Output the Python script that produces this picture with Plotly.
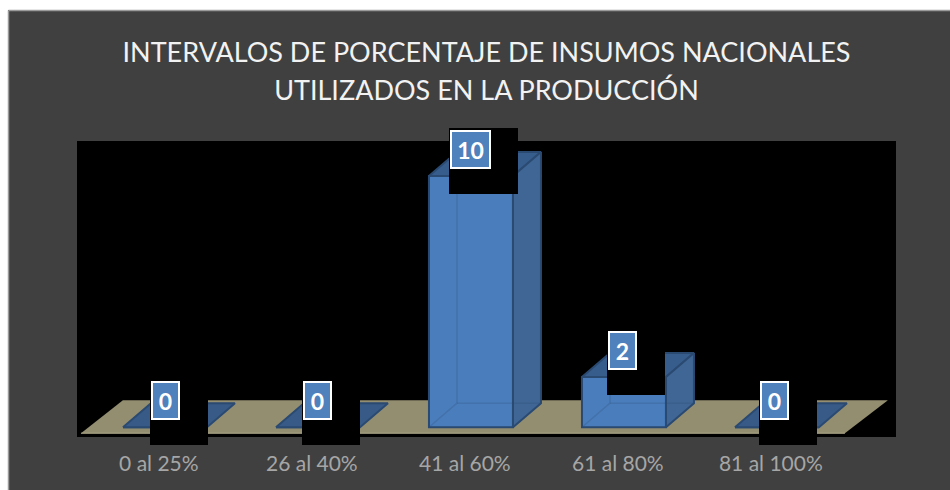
import plotly.graph_objects as go

categories = ["0 al 25%", "26 al 40%", "41 al 60%", "61 al 80%", "81 al 100%"]
values = [0, 0, 10, 2, 0]
title_lines = ["INTERVALOS DE PORCENTAJE DE INSUMOS NACIONALES", "UTILIZADOS EN LA PRODUCCIÓN"]

# Styling / geometry (pixel sizes and the pseudo-3D depth of the bars)
W, H = 950, 490
L, R, T, B = 77, 54, 141, 53
BAR_W = 0.549
DX, DY = 0.183, 0.956
FRONT, SIDE, TOP, FLAT, EDGE = "#4A7DBB", "#3F6695", "#375D8C", "#375A86", "#2B4A72"
LABEL_SHIFT = [-15, -16, -22, -17, -18]
idx = list(range(len(categories)))

fig = go.Figure()

fig.add_bar(x=idx, y=values, width=BAR_W, marker=dict(color=FRONT, line=dict(color=EDGE, width=2)),
            hoverinfo="skip", showlegend=False)


def poly(xs, ys, fill, line=EDGE, width=2):
    fig.add_scatter(x=xs, y=ys, mode="lines", fill="toself", fillcolor=fill,
                    line=dict(color=line, width=width), hoverinfo="skip", showlegend=False)


for i, v in zip(idx, values):
    a, b = i - BAR_W / 2, i + BAR_W / 2
    if v == 0:
        poly([a, b, b + DX, a + DX, a], [0, 0, DY, DY, 0], FLAT)
        continue
    poly([a + DX, b + DX, b, a, a + DX], [v + DY, v + DY, v, v, v + DY], TOP)
    poly([b, b + DX, b + DX, b, b], [0, DY, v + DY, v, 0], SIDE)
    # faint hidden edges seen through the translucent front
    fig.add_scatter(x=[a, a + DX, a + DX, None, a + DX, b + DX], y=[0, DY, v + DY, None, DY, DY],
                    mode="lines", line=dict(color="rgba(43,74,114,0.22)", width=1.5),
                    hoverinfo="skip", showlegend=False)

annotations = []
for i, v, s in zip(idx, values, LABEL_SHIFT):
    wide = len(str(v)) > 1
    annotations.append(dict(x=i, y=v, xref="x", yref="y", text=" ", showarrow=False,
                            xanchor="left", yanchor="top", xshift=s, yshift=48,
                            width=69 if wide else 58, height=66, bgcolor="#000000",
                            borderpad=0, borderwidth=0))
for i, v, s in zip(idx, values, LABEL_SHIFT):
    wide = len(str(v)) > 1
    annotations.append(dict(x=i, y=v, xref="x", yref="y", text=f"<b>{v}</b>", showarrow=False,
                            xanchor="left", yanchor="top", xshift=s + 1, yshift=46,
                            width=37 if wide else 25, height=35, bgcolor="#4F81BD",
                            bordercolor="#FFFFFF", borderwidth=2, borderpad=0,
                            font=dict(family="Lato", size=23, color="#FFFFFF")))

shapes = [
    dict(type="rect", xref="paper", yref="paper", layer="below",
         x0=-L / (W - L - R), x1=(W - L) / (W - L - R), y0=1 + T / (H - T - B) - 10 / (H - T - B),
         y1=1 + T / (H - T - B), fillcolor="#FFFFFF", line_width=0),
    dict(type="rect", xref="paper", yref="paper", layer="below",
         x0=-L / (W - L - R), x1=-(L - 8) / (W - L - R), y0=-B / (H - T - B), y1=1 + T / (H - T - B),
         fillcolor="#FFFFFF", line_width=0),
    dict(type="line", xref="paper", yref="paper", layer="below",
         x0=-(L - 8.5) / (W - L - R), x1=(W - L) / (W - L - R),
         y0=1 + (T - 10.5) / (H - T - B), y1=1 + (T - 10.5) / (H - T - B), line=dict(color="#9A9A9A", width=1.5)),
    dict(type="line", xref="paper", yref="paper", layer="below",
         x0=-(L - 8.5) / (W - L - R), x1=-(L - 8.5) / (W - L - R),
         y0=-B / (H - T - B), y1=1 + (T - 10.5) / (H - T - B), line=dict(color="#9A9A9A", width=1.5)),
    dict(type="path", xref="x", yref="y", layer="below",
         path="M -0.549,-0.24 L 4.444,-0.24 L 4.725,1.075 L -0.275,1.075 Z",
         fillcolor="#948E70", line=dict(color="#948E70", width=0)),
    dict(type="line", xref="x", yref="y", layer="below", x0=-0.549, x1=4.444, y0=-0.24, y1=-0.24,
         line=dict(color="#B5AE90", width=1)),
]

fig.update_layout(
    width=W, height=H, autosize=False,
    margin=dict(l=L, r=R, t=T, b=B, pad=0),
    paper_bgcolor="#404040", plot_bgcolor="#000000",
    showlegend=False, barmode="overlay",
    font=dict(family="Lato", color="#A6A6A6"),
    title=dict(
        text="<br>".join(f'<span style="font-size:27px">{t}</span>' for t in title_lines),
        font=dict(family="Lato", size=29, color="#F2F2F2"),
        x=0.5, xref="paper", xanchor="center", y=0.873, yanchor="middle",
    ),
    xaxis=dict(range=[-0.575, 4.778], tickvals=[i - 0.04 for i in idx], ticktext=categories,
               showgrid=False, zeroline=False, showline=False, ticks="", ticklabelstandoff=12,
               tickfont=dict(family="Lato", size=21, color="#A6A6A6"), fixedrange=True),
    yaxis=dict(range=[-0.39, 11.39], visible=False, showgrid=False, zeroline=False, fixedrange=True),
    annotations=annotations,
    shapes=shapes,
)

fig.write_html("out.html", config={"displayModeBar": False},
               post_script="document.body.style.margin='0';document.documentElement.style.overflow='hidden';")
